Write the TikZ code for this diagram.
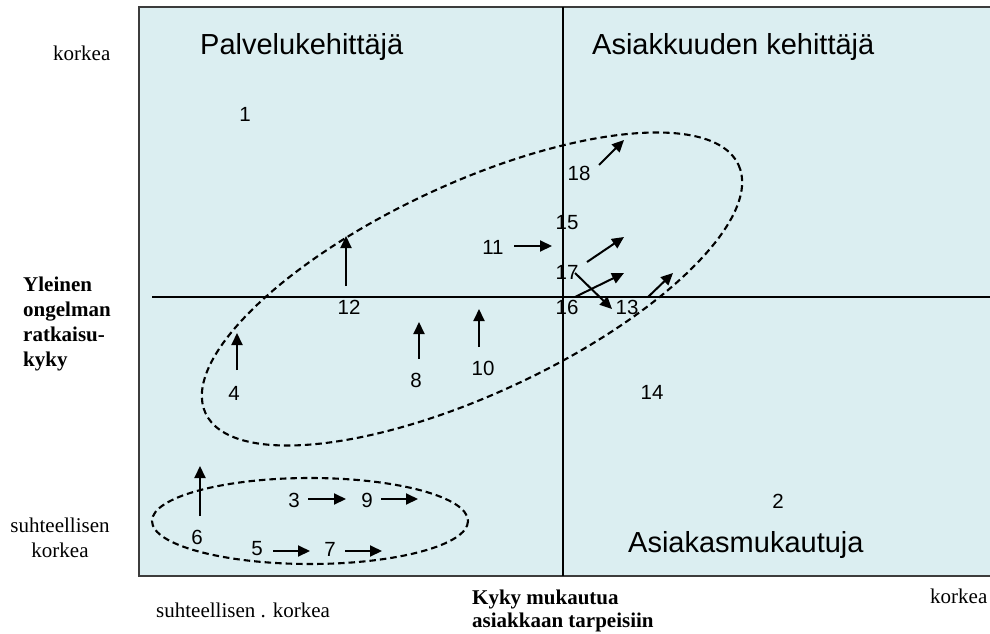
\documentclass[tikz,border=0pt]{standalone}
\usepackage{fontspec}
\setmainfont{Liberation Serif}
\newfontfamily\arialfont{Liberation Sans}
\usetikzlibrary{arrows.meta}

\definecolor{panelfill}{RGB}{219,238,241}
\definecolor{frameline}{RGB}{60,60,60}

\begin{document}
\begin{tikzpicture}[
    x=1pt, y=-1pt,
    num/.style={font=\arialfont\fontsize{20.5}{21}\selectfont, inner sep=0},
    role/.style={font=\arialfont\fontsize{29}{30}\selectfont, inner sep=0, anchor=base west},
    scaletxt/.style={font=\fontsize{21}{25}\selectfont, inner sep=0},
    axistxt/.style={font=\bfseries\fontsize{21}{25}\selectfont, inner sep=0, align=left},
    move/.style={line width=2pt, -{Triangle[length=12pt,width=11pt]}},
    group/.style={line width=2.1pt, dash pattern=on 6.5pt off 4pt}
]
\useasboundingbox (0,0) rectangle (990,634);

% 1. Kenttä ja nelikentän jako
\fill[panelfill] (139,7) rectangle (990,576);
\draw[frameline, line width=1.6pt] (990,7) -- (139,7) -- (139,576) -- (990,576);
\draw[line width=1.2pt] (152,297) -- (990,297);
\draw[line width=1.2pt] (563,7) -- (563,576);

% 2. Nelikentän nimet
\node[role] (pk) at (200,55) {Palvelukehittäjä};
\node[role] (ak) at (592,55) {Asiakkuuden kehittäjä};
\node[role] (am) at (628,552) {Asiakasmukautuja};

% 3. Akselien tekstit (base = viimeisen rivin perusviiva)
\node[scaletxt, anchor=base west] (ykorkea) at (53,60) {korkea};
\node[scaletxt, anchor=base, align=center] (ysuht) at (60,557) {suhteellisen\\korkea};
\node[scaletxt, anchor=base west] (xsuht) at (156,617) {suhteellisen . korkea};
\node[scaletxt, anchor=base west] (xkorkea) at (930,603) {korkea};
\node[axistxt, anchor=base west] (yakseli) at (23,366) {Yleinen\\ongelman\\ratkaisu-\\kyky};
\node[axistxt, anchor=base west, font=\bfseries\fontsize{21}{22.5}\selectfont] (xakseli) at (472,627) {Kyky mukautua\\asiakkaan tarpeisiin};

% 4. Ryhmät (katkoviiva)
\draw[group, rotate around={25:(472,289)}] (472,289) ellipse [x radius=294, y radius=105];
\draw[group] (310,521) ellipse [x radius=158, y radius=43];

% 5. Tapaukset
\node[num] (p1) at (245,114) {1};
\node[num] (p2) at (778,501) {2};
\node[num] (p3) at (294,500) {3};
\node[num] (p4) at (234,393) {4};
\node[num] (p5) at (257,549) {5};
\node[num] (p6) at (197,537) {6};
\node[num] (p7) at (330,549) {7};
\node[num] (p8) at (416,380) {8};
\node[num] (p9) at (367,500) {9};
\node[num] (p10) at (483,368) {10};
\node[num] (p11) at (493,247) {11};
\node[num] (p12) at (349,307) {12};
\node[num] (p13) at (627,307) {13};
\node[num] (p14) at (652,392) {14};
\node[num] (p15) at (567,223) {15};
\node[num] (p16) at (567,307) {16};
\node[num] (p17) at (567,272) {17};
\node[num] (p18) at (579,173) {18};

% 6. Siirtymät (nuolet ankkuroitu tapauksen numeroon)
\draw[move] ([shift={(3,-21)}]p6.center) -- ++(0,-50);
\draw[move] ([shift={(14,-1)}]p3.center) -- ++(38,0);
\draw[move] ([shift={(14,-1)}]p9.center) -- ++(37,0);
\draw[move] ([shift={(16,2)}]p5.center) -- ++(37,0);
\draw[move] ([shift={(15,2)}]p7.center) -- ++(37,0);
\draw[move] ([shift={(3,-23)}]p4.center) -- ++(0,-37);
\draw[move] ([shift={(3,-21)}]p8.center) -- ++(0,-37);
\draw[move] ([shift={(-4,-21)}]p10.center) -- ++(0,-38);
\draw[move] ([shift={(-3,-21)}]p12.center) -- ++(0,-50);
\draw[move] ([shift={(21,-1)}]p11.center) -- ++(38,0);
\draw[move] ([shift={(20,-8)}]p18.center) -- ++(25,-25);
\draw[move] ([shift={(20,-10)}]p17.center) -- ++(37,-25);
\draw[move] ([shift={(8,1)}]p17.center) -- ++(37,36);
\draw[move] ([shift={(8,-10)}]p16.center) -- ++(49,-24);
\draw[move] ([shift={(21,-10)}]p13.center) -- ++(25,-24);

\end{tikzpicture}
\end{document}
